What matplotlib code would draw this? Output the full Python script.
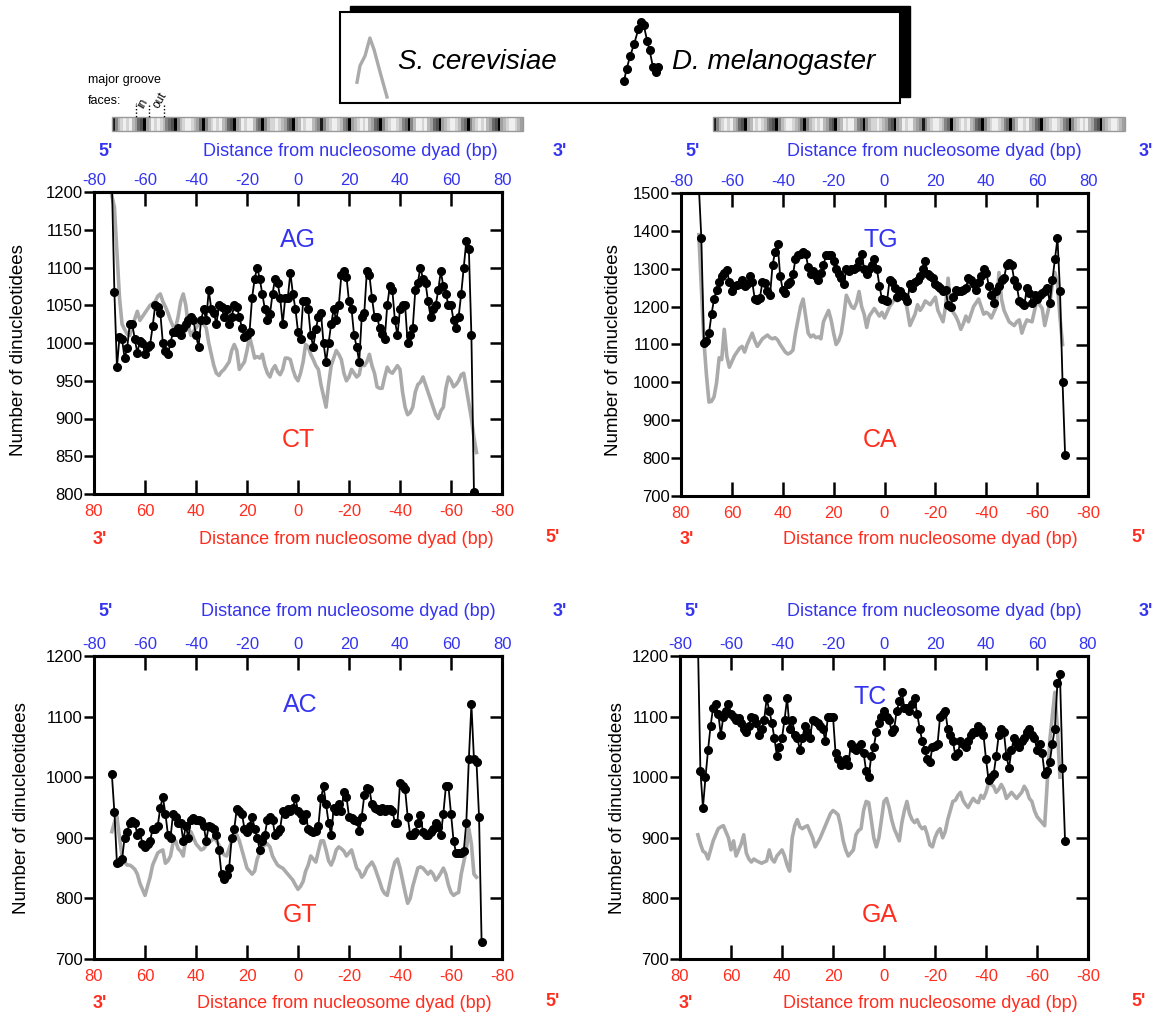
import numpy as np
import matplotlib.pyplot as plt
from matplotlib.patches import Rectangle

plt.rcParams['font.family'] = ['Liberation Sans', 'DejaVu Sans']

W, H = 1160, 1016
BLUE = '#3434f0'
RED = '#ff2d1e'
GRAY = '#aaaaaa'

# every series starts at -73 bp and goes on one value per bp
START = -73

# AG (top) / CT (bottom)
ag_dm = [1215, 1067, 968, 1008, 1005, 980, 993, 1025, 1025, 1005,
         987, 1003, 1000, 985, 995, 998, 1022, 1050, 1048, 1040,
         1000, 990, 985, 1000, 1015, 1015, 1020, 1010, 1020, 1025,
         1030, 1035, 1030, 1010, 995, 1030, 1045, 1030, 1070, 1045,
         1040, 1025, 1050, 1048, 1035, 1045, 1025, 1035, 1050, 1048,
         1035, 1020, 1008, 1010, 1015, 1060, 1085, 1100, 1085, 1065,
         1045, 1030, 1038, 1065, 1085, 1080, 1060, 1025, 1060, 1060,
         1093, 1065, 1045, 1015, 1005, 1055, 1055, 1045, 1010, 995,
         1018, 1035, 1040, 1000, 975, 1000, 1025, 1045, 1030, 1050,
         1090, 1095, 1088, 1055, 1045, 1010, 995, 975, 1035, 1040,
         1095, 1090, 1060, 1035, 1035, 1020, 1012, 1005, 1050, 1075,
         1070, 1030, 1010, 1045, 1050, 1050, 1000, 1010, 1020, 1070,
         1080, 1100, 1085, 1080, 1055, 1035, 1045, 1050, 1070, 1095,
         1075, 1065, 1050, 1050, 1030, 1020, 1035, 1065, 1100, 1135,
         1125, 1010, 803]
ag_sc = [1195, 1180, 1120, 1060, 1025, 1018, 1012, 1010, 1022, 1032,
         1042, 1030, 1035, 1040, 1045, 1050, 1052, 1055, 1062, 1065,
         1055, 1048, 1040, 1030, 1022, 1020, 1035, 1055, 1065, 1050,
         1022, 1010, 1015, 1020, 1025, 1030, 1025, 1020, 1000, 985,
         970, 960, 957, 962, 965, 970, 975, 990, 998, 990,
         965, 970, 975, 990, 1008, 995, 980, 982, 980, 985,
         970, 960, 955, 965, 970, 962, 958, 965, 980, 980,
         978, 965, 955, 950, 960, 975, 998, 995, 985, 978,
         970, 965, 945, 930, 915, 945, 970, 980, 990, 985,
         978, 960, 950, 955, 965, 960, 955, 958, 975, 970,
         975, 985, 970, 960, 942, 940, 940, 955, 968, 962,
         960, 965, 970, 965, 935, 915, 905, 908, 915, 935,
         945, 948, 955, 945, 935, 925, 915, 905, 900, 910,
         915, 940, 955, 950, 942, 945, 950, 958, 960, 940,
         920, 900, 875, 855]

# TG / CA
tg_dm = [1520, 1380, 1105, 1110, 1130, 1180, 1220, 1245, 1265, 1280,
         1290, 1298, 1265, 1240, 1255, 1258, 1260, 1270, 1255, 1260,
         1280, 1265, 1220, 1218, 1222, 1265, 1262, 1240, 1230, 1310,
         1345, 1365, 1280, 1245, 1235, 1260, 1265, 1285, 1325, 1335,
         1340, 1345, 1340, 1305, 1285, 1295, 1280, 1270, 1290, 1310,
         1335, 1335, 1335, 1320, 1300, 1285, 1275, 1260, 1300, 1295,
         1300, 1300, 1305, 1320, 1340, 1300, 1285, 1300, 1310, 1325,
         1300, 1255, 1220, 1218, 1215, 1270, 1265, 1250, 1225, 1240,
         1230, 1225, 1215, 1260, 1250, 1265, 1270, 1280, 1300, 1320,
         1285, 1280, 1275, 1260, 1255, 1250, 1240, 1245, 1205, 1200,
         1225, 1245, 1240, 1242, 1245, 1250, 1275, 1270, 1260, 1245,
         1265, 1280, 1300, 1290, 1255, 1230, 1210, 1240, 1255, 1270,
         1275, 1310, 1315, 1310, 1270, 1255, 1215, 1210, 1205, 1250,
         1235, 1210, 1230, 1220, 1230, 1235, 1240, 1250, 1210, 1270,
         1325, 1380, 1240, 1000, 808]
tg_sc = [1390, 1250, 1110, 1020, 948, 950, 962, 1000, 1065, 1060,
         1140, 1070, 1040, 1055, 1070, 1080, 1090, 1095, 1080, 1100,
         1115, 1130, 1110, 1095, 1105, 1115, 1120, 1125, 1118, 1115,
         1118, 1112, 1100, 1090, 1080, 1075, 1078, 1085, 1130, 1165,
         1200, 1220, 1175, 1130, 1120, 1125, 1118, 1120, 1115, 1160,
         1175, 1190, 1165, 1130, 1100, 1110, 1130, 1175, 1230, 1215,
         1200, 1195, 1210, 1240, 1200, 1180, 1145, 1175, 1185, 1195,
         1185, 1175, 1185, 1170, 1185, 1200, 1210, 1220, 1215, 1220,
         1222, 1225, 1190, 1150, 1165, 1180, 1205, 1190, 1200, 1215,
         1210, 1205, 1215, 1225, 1190, 1175, 1160, 1200, 1275, 1200,
         1185, 1175, 1160, 1140, 1155, 1175, 1160, 1180, 1200, 1210,
         1220, 1200, 1180, 1185, 1180, 1170, 1185, 1200, 1290, 1220,
         1190, 1175, 1160, 1155, 1150, 1160, 1165, 1130, 1150, 1165,
         1162, 1160, 1190, 1220, 1205, 1195, 1150, 1180, 1210, 1260,
         1290, 1260, 1170, 1100]

# AC / GT
ac_dm = [1005, 942, 858, 860, 865, 900, 910, 925, 928, 925,
         905, 910, 890, 885, 890, 895, 915, 915, 920, 950,
         967, 940, 905, 900, 940, 935, 925, 925, 895, 920,
         900, 930, 932, 930, 930, 928, 920, 895, 920, 918,
         915, 905, 880, 840, 832, 838, 850, 900, 915, 948,
         945, 940, 915, 910, 920, 935, 915, 900, 880, 895,
         905, 930, 935, 930, 905, 910, 915, 945, 940, 948,
         945, 950, 965, 945, 940, 930, 940, 915, 912, 910,
         912, 920, 965, 985, 955, 925, 905, 950, 945, 955,
         945, 975, 968, 935, 932, 930, 928, 912, 935, 970,
         983, 980, 955, 950, 948, 945, 950, 945, 948, 948,
         945, 925, 925, 990, 985, 980, 935, 905, 905, 910,
         925, 938, 910, 905, 905, 910, 915, 925, 918, 905,
         940, 985, 985, 940, 895, 875, 875, 875, 878, 925,
         1030, 1120, 1030, 1025, 935, 728]
ac_sc = [910, 925, 935, 900, 870, 860, 855, 855, 852, 848,
         840, 825, 815, 805, 820, 835, 855, 865, 875, 878,
         880, 858, 862, 870, 892, 895, 882, 878, 870, 900,
         905, 910, 900, 890, 885, 880, 882, 888, 892, 895,
         900, 895, 888, 880, 872, 870, 882, 895, 900, 905,
         895, 880, 865, 850, 845, 840, 845, 865, 875, 885,
         888, 890, 885, 870, 862, 855, 852, 850, 845, 840,
         835, 830, 822, 815, 820, 828, 845, 855, 870, 865,
         860, 878, 895, 895, 880, 862, 855, 865, 880, 885,
         882, 878, 870, 875, 880, 865, 850, 845, 835, 840,
         850, 855, 860, 852, 840, 828, 815, 808, 805, 825,
         845, 860, 865, 850, 830, 810, 792, 800, 820, 835,
         850, 852, 850, 845, 840, 845, 840, 830, 835, 842,
         850, 840, 822, 810, 805, 808, 810, 840, 860, 880,
         915, 890, 840, 835]

# TC / GA
tc_dm = [1230, 1010, 950, 1000, 1045, 1085, 1115, 1120, 1105, 1070,
         1100, 1110, 1120, 1105, 1100, 1095, 1098, 1090, 1080, 1075,
         1085, 1100, 1098, 1090, 1070, 1080, 1095, 1130, 1110, 1090,
         1065, 1035, 1050, 1065, 1095, 1130, 1080, 1095, 1070, 1065,
         1045, 1065, 1085, 1075, 1065, 1095, 1092, 1090, 1085, 1080,
         1060, 1100, 1100, 1100, 1040, 1030, 1020, 1025, 1030, 1020,
         1055, 1048, 1045, 1050, 1055, 1040, 1010, 1000, 1035, 1050,
         1075, 1090, 1100, 1110, 1100, 1095, 1075, 1080, 1110, 1125,
         1140, 1115, 1115, 1110, 1120, 1130, 1105, 1080, 1060, 1045,
         1030, 1025, 1050, 1052, 1055, 1100, 1105, 1110, 1080, 1070,
         1060, 1035, 1040, 1060, 1055, 1050, 1060, 1070, 1075, 1075,
         1085, 1080, 1070, 1030, 995, 1000, 1005, 1035, 1070, 1080,
         1075, 1035, 1015, 1045, 1065, 1055, 1050, 1060, 1065, 1075,
         1080, 1070, 1065, 1045, 1055, 1040, 1005, 1010, 1025, 1055,
         1080, 1155, 1170, 1015, 895]
tc_sc = [905, 890, 878, 875, 865, 880, 895, 905, 915, 918,
         920, 910, 900, 880, 895, 870, 880, 890, 905, 875,
         865, 860, 865, 862, 860, 858, 860, 862, 880, 865,
         860, 870, 875, 880, 870, 855, 845, 900, 920, 930,
         918, 915, 918, 920, 910, 900, 885, 892, 900, 910,
         920, 930, 940, 945, 942, 938, 920, 895, 880, 870,
         875, 880, 905, 912, 915, 945, 960, 958, 930, 900,
         885, 900, 930, 960, 965, 950, 930, 915, 905, 895,
         925, 945, 960, 940, 930, 925, 930, 920, 915, 918,
         905, 888, 885, 900, 910, 915, 900, 910, 930, 945,
         960, 962, 970, 975, 962, 955, 950, 958, 965, 960,
         958, 970, 965, 975, 990, 988, 985, 975, 980, 988,
         980, 965, 970, 975, 970, 965, 970, 975, 985, 978,
         965, 960, 945, 935, 930, 925, 920, 990, 1060, 1100,
         1140, 1080, 1000]

# major groove orientation bar, one shade per bp: 0 black .. 9 white
groove = ("15789897643" "06798987543" "0578998764" "05789897643"
          "0679899754" "05788987643" "0679899765" "1578998754"
          "06789897643" "0578998754" "05799897643" "0678998754"
          "05789897643" "067899876")

# legend glyphs (relative shape inside the legend box, 0..1)
sc_glyph_x = [0.0, 0.1, 0.27, 0.43, 0.57, 0.77, 1.0]
sc_glyph_y = [0.75, 0.47, 0.3, 0.0, 0.2, 0.58, 1.0]
dm_glyph_x = [0.0, 0.08, 0.18, 0.3, 0.42, 0.5, 0.58, 0.68, 0.75, 0.85, 0.93, 1.0]
dm_glyph_y = [0.95, 0.75, 0.55, 0.35, 0.12, 0.0, 0.05, 0.3, 0.45, 0.72, 0.8, 0.72]

xt = np.arange(-80, 81, 20)

panels = [
    dict(rect=(94, 192, 408, 302), ylim=(800, 1200), ystep=50, dm=ag_dm, sc=ag_sc,
         top=('AG', 0.50, 0.84), bot=('CT', 0.50, 0.18),
         ylab=(19, 350), toprow=152, botrow=540, lab_dx=52),
    dict(rect=(681, 193, 407, 303), ylim=(700, 1500), ystep=100, dm=tg_dm, sc=tg_sc,
         top=('TG', 0.49, 0.845), bot=('CA', 0.49, 0.185),
         ylab=(613, 350), toprow=152, botrow=540, lab_dx=50),
    dict(rect=(94, 656, 408, 303), ylim=(700, 1200), ystep=100, dm=ac_dm, sc=ac_sc,
         top=('AC', 0.505, 0.838), bot=('GT', 0.505, 0.145),
         ylab=(22, 808), toprow=612, botrow=1003, lab_dx=50),
    dict(rect=(680, 656, 408, 303), ylim=(700, 1200), ystep=100, dm=tc_dm, sc=tc_sc,
         top=('TC', 0.466, 0.865), bot=('GA', 0.49, 0.145),
         ylab=(617, 808), toprow=612, botrow=1003, lab_dx=50),
]

fig = plt.figure(figsize=(W / 100, H / 100), dpi=100)

# overlay in pixel coordinates for the annotations
deco = fig.add_axes([0, 0, 1, 1])
deco.axis('off')

for p in panels:
    x, y, w, h = p['rect']
    ax = fig.add_axes([x / W, 1 - (y + h) / H, w / W, h / H])

    sc = np.array(p['sc'])
    dm = np.array(p['dm'])
    ax.plot(START + np.arange(len(sc)), sc, color=GRAY, lw=2.6,
            solid_joinstyle='round', zorder=2)
    ax.plot(START + np.arange(len(dm)), dm, color='black', lw=1.3,
            marker='o', ms=5.5, zorder=3)

    ax.set_xlim(-80, 80)
    ax.set_ylim(*p['ylim'])
    yt = np.arange(p['ylim'][0], p['ylim'][1] + 1, p['ystep'])
    ax.set_yticks(yt)
    ax.set_xticks(xt)
    ax.set_xticklabels([str(-v) for v in xt])
    ax.tick_params(axis='x', direction='in', length=10, width=1.8, pad=7,
                   labelsize=12, labelcolor=RED)
    ax.tick_params(axis='y', direction='out', length=7, width=1.8, pad=1,
                   labelsize=12)
    for s in ax.spines.values():
        s.set_linewidth(2.2)

    secx = ax.secondary_xaxis('top')
    secx.set_xticks(xt)
    secx.set_xticklabels([str(v) for v in xt])
    secx.tick_params(direction='in', length=10, width=1.8, pad=3,
                     labelsize=12, labelcolor=BLUE)
    secx.spines['top'].set_linewidth(2.2)

    secy = ax.secondary_yaxis('right')
    secy.set_yticks(yt)
    secy.tick_params(direction='in', length=8.5, width=1.8, labelright=False)
    secy.spines['right'].set_linewidth(2.2)

    name, tx, ty = p['top']
    ax.text(tx, ty, name, transform=ax.transAxes, color=BLUE, fontsize=18,
            ha='center', va='center')
    name, bx, by = p['bot']
    ax.text(bx, by, name, transform=ax.transAxes, color=RED, fontsize=18,
            ha='center', va='center')

    # axis titles with strand ends
    cx = x + w / 2 + p['lab_dx']
    deco.text(cx, p['toprow'], 'Distance from nucleosome dyad (bp)', color=BLUE,
              fontsize=13, ha='center', va='center')
    deco.text(x + 12, p['toprow'], "5'", color=BLUE, fontsize=13,
              fontweight='bold', ha='center', va='center')
    deco.text(x + w + 58, p['toprow'], "3'", color=BLUE, fontsize=13,
              fontweight='bold', ha='center', va='center')
    deco.text(cx - 4, p['botrow'], 'Distance from nucleosome dyad (bp)', color=RED,
              fontsize=13, ha='center', va='center')
    deco.text(x + 6, p['botrow'], "3'", color=RED, fontsize=13,
              fontweight='bold', ha='center', va='center')
    deco.text(x + w + 51, p['botrow'] - 2, "5'", color=RED, fontsize=13,
              fontweight='bold', ha='center', va='center')
    deco.text(p['ylab'][0], p['ylab'][1], 'Number of dinucleotidees',
              rotation=90, fontsize=13.5, ha='center', va='center')

# groove bars above the top panels
shades = np.array([int(c) for c in groove], dtype=float)[np.newaxis, :]
for x0, x1 in [(112, 523), (713, 1125)]:
    deco.imshow(shades, cmap='gray', vmin=0, vmax=9.6, aspect='auto',
                interpolation='nearest', extent=(x0, x1, 131, 117))
    deco.add_patch(Rectangle((x0, 117), x1 - x0, 14, fill=False,
                             edgecolor='#999999', lw=1))

deco.text(88, 80, 'major groove', fontsize=9, ha='left', va='center')
deco.text(88, 101, 'faces:', fontsize=9, ha='left', va='center')
for lx in [136, 149, 164]:
    deco.plot([lx, lx], [105, 117], color='black', lw=1, ls=(0, (1, 1.5)))
deco.text(143, 103, 'in', fontsize=8.5, rotation=60, ha='center', va='center')
deco.text(160, 100, 'out', fontsize=8.5, rotation=60, ha='center', va='center')

# legend box with drop shadow
deco.add_patch(Rectangle((350, 6), 560, 91, facecolor='black', edgecolor='black'))
deco.add_patch(Rectangle((340, 12), 560, 91, facecolor='white',
                         edgecolor='black', lw=1.5))
gx = 357 + 30 * np.array(sc_glyph_x)
gy = 38 + 59 * np.array(sc_glyph_y)
deco.plot(gx, gy, color=GRAY, lw=2.4, solid_joinstyle='round')
deco.text(398, 62, 'S. cerevisiae', fontsize=20, style='italic',
          ha='left', va='center')
gx = 624 + 34 * np.array(dm_glyph_x)
gy = 22 + 62 * np.array(dm_glyph_y)
deco.plot(gx, gy, color='black', lw=1.3, marker='o', ms=5.5)
deco.text(672, 62, 'D. melanogaster', fontsize=20, style='italic',
          ha='left', va='center')

deco.set_xlim(0, W)
deco.set_ylim(H, 0)

fig.savefig('out.png', dpi=100)
